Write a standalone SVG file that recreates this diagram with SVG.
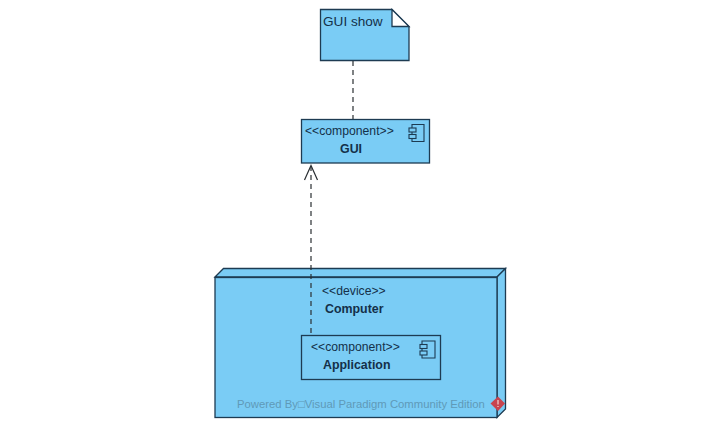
<svg xmlns="http://www.w3.org/2000/svg" width="717" height="443" viewBox="0 0 717 443">
<style>
.shape{fill:#7accf5;stroke:#1d3b52;stroke-width:1.3}
.box{fill:none;stroke:#1d3b52;stroke-width:1.3}
.icon{fill:#7accf5;stroke:#1d3b52;stroke-width:1.1}
.conn{fill:none;stroke:#2a2f33;stroke-width:1.2}
.dash{stroke-dasharray:5 4}
text{font-family:"Liberation Sans",Arial,sans-serif;font-size:12.2px;fill:#143049}
.b{font-weight:bold;font-size:12.400px}
.note{font-size:13.600px}
.wm{font-size:11.300px;fill:#5f9ab8}
</style>
<rect width="717" height="443" fill="#ffffff"/>
<g id="note-gui-show">
<path class="shape" d="M320.500 9.500H392L409 26.500V60.500H320.500Z"/>
<path d="M392 9.500V26.500H409Z" fill="#ffffff" stroke="#1d3b52" stroke-width="1.300"/>
<text class="note" x="323" y="26">GUI show</text>
</g>
<g id="component-gui">
<rect class="shape" x="301.500" y="119.500" width="128" height="43.500"/>
<text x="305" y="135">&lt;&lt;component&gt;&gt;</text>
<text class="b" x="340" y="152.500">GUI</text>
<path class="icon" d="M412 124.500H424V141.500H412Z"/>
<rect class="icon" x="409" y="128" width="7" height="4"/>
<rect class="icon" x="409" y="134.500" width="7" height="4"/>
</g>
<g id="node-computer">
<path class="shape" d="M215 277L223.500 268.500H505.500L497 277Z"/>
<path class="shape" d="M497 277L505.500 268.500V409L497 417.500Z"/>
<rect class="shape" x="215" y="277.500" width="282" height="140"/>
<text x="322" y="295">&lt;&lt;device&gt;&gt;</text>
<text class="b" x="325" y="312.500">Computer</text>
</g>
<g id="component-application">
<rect class="box" x="301.500" y="335.500" width="139" height="44"/>
<text x="311" y="351">&lt;&lt;component&gt;&gt;</text>
<text class="b" x="323" y="369">Application</text>
<path class="icon" d="M422 341H435V358H422Z"/>
<rect class="icon" x="420" y="344.500" width="7" height="4"/>
<rect class="icon" x="420" y="351" width="7" height="4"/>
</g>
<g id="connectors">
<path class="conn dash" d="M353 61V119"/>
<path class="conn dash" d="M311 166V335"/>
<path class="conn" d="M304.500 180L311 165.500L317.500 180"/>
</g>
<g id="watermark">
<text class="wm" x="237" y="408">Powered By□Visual Paradigm Community Edition</text>
<path d="M498 396.500L505 403.500L498 411L490.500 403.500Z" fill="#c8444f"/>
<path d="M498 400V404.500M498 406V407" stroke="#f3d5d5" stroke-width="1.200"/>
</g>
</svg>
